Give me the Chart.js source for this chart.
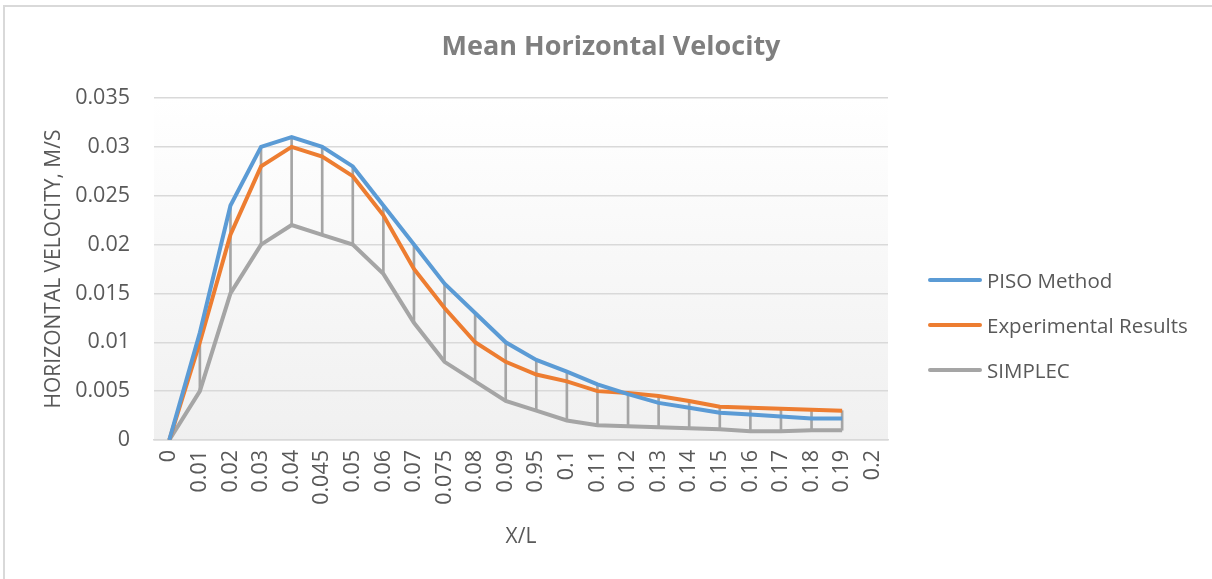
<!DOCTYPE html>
<html>
<head>
<meta charset="utf-8">
<title>Mean Horizontal Velocity</title>
<script src="https://cdn.jsdelivr.net/npm/chart.js@4.4.1/dist/chart.umd.min.js"></script>
<style>
	html, body { margin: 0; padding: 0; background: #fff; overflow: hidden; }
	#wrap { position: relative; width: 1212px; height: 579px; }
	#frame { position: absolute; left: 3px; top: 5px; width: 1240px; height: 600px;
		border-top: 2px solid #d9d9d9; border-left: 2px solid #d9d9d9; }
	#myChart { position: absolute; left: 0; top: 0; }
	#titulo { position: absolute; left: 0; top: 27px; width: 1222px; text-align: center;
		font-family: "Open Sans", sans-serif; font-weight: bold; font-size: 27px; line-height: 36px; color: #7f7f7f; }
	.legenda { position: absolute; left: 928px; font-family: "Open Sans", sans-serif; font-size: 20.5px; color: #595959; }
	.legenda div { position: relative; height: 45px; line-height: 28px; padding-left: 59px; white-space: nowrap; }
	.legenda span { position: absolute; left: 0; top: 12px; width: 54px; height: 4px; border-radius: 2px; }
</style>
</head>
<body>
<div id="wrap">
	<div id="frame"></div>
	<canvas id="myChart" width="1212" height="579"></canvas>
	<div id="titulo">Mean Horizontal Velocity</div>
	<div class="legenda" id="legenda" style="top: 266px;"></div>
</div>

<script>
// valores lidos por posição x/L
const categorias = ['0', '0.01', '0.02', '0.03', '0.04', '0.045', '0.05', '0.06', '0.07', '0.075', '0.08', '0.09',
	'0.95', '0.1', '0.11', '0.12', '0.13', '0.14', '0.15', '0.16', '0.17', '0.18', '0.19', '0.2'];

const piso = [0, 0.011, 0.024, 0.030, 0.031, 0.030, 0.028, 0.024, 0.020, 0.016, 0.013, 0.010,
	0.0082, 0.007, 0.0057, 0.0047, 0.0038, 0.0033, 0.0028, 0.0026, 0.0024, 0.0022, 0.0022, null];

const experimental = [0, 0.010, 0.021, 0.028, 0.030, 0.029, 0.027, 0.023, 0.0175, 0.0135, 0.010, 0.008,
	0.0067, 0.006, 0.005, 0.0048, 0.0045, 0.004, 0.0034, 0.0033, 0.0032, 0.0031, 0.003, null];

const simplec = [0, 0.005, 0.015, 0.020, 0.022, 0.021, 0.020, 0.017, 0.012, 0.008, 0.006, 0.004,
	0.003, 0.002, 0.0015, 0.0014, 0.0013, 0.0012, 0.0011, 0.0009, 0.0009, 0.001, 0.001, null];

const nomesSeries = ['PISO Method', 'Experimental Results', 'SIMPLEC'];
const coresSeries = ['#5b9bd5', '#ed7d31', '#a5a5a5'];

// linhas de máximo/mínimo entre as três séries
const linhasMaxMin = categorias.map(function(c, i) {
	if (piso[i] == null) return null;
	const v = [piso[i], experimental[i], simplec[i]];
	return [Math.min.apply(null, v), Math.max.apply(null, v)];
});

const fonte = '"Open Sans", sans-serif';
const corTexto = '#595959';

// fundo do gráfico em degradê
const fundoPlot = {
	id: 'fundoPlot',
	beforeDraw: function(chart) {
		const a = chart.chartArea;
		const ctx = chart.ctx;
		const g = ctx.createLinearGradient(0, a.top, 0, a.bottom);
		g.addColorStop(0, '#ffffff');
		g.addColorStop(1, '#f0f0f0');
		ctx.save();
		ctx.fillStyle = g;
		ctx.fillRect(a.left, a.top, a.right - a.left, a.bottom - a.top);
		ctx.restore();
	}
};

function linha(idx, dados) {
	return {
		type: 'line',
		label: nomesSeries[idx],
		data: dados,
		borderColor: coresSeries[idx],
		backgroundColor: coresSeries[idx],
		borderWidth: 4,
		pointRadius: 0,
		tension: 0,
		spanGaps: false,
		order: idx
	};
}

const ctx = document.getElementById('myChart').getContext('2d');

new Chart(ctx, {
	type: 'line',
	data: {
		labels: categorias,
		datasets: [
			linha(0, piso),
			linha(1, experimental),
			linha(2, simplec),
			{
				type: 'bar',
				label: 'hi-lo',
				data: linhasMaxMin,
				backgroundColor: '#a5a5a5',
				barThickness: 2,
				order: 10
			}
		]
	},
	options: {
		responsive: false,
		animation: false,
		layout: { padding: { top: 98, right: 324 } },
		plugins: {
			legend: { display: false },
			tooltip: { enabled: false },
			title: { display: false }
		},
		scales: {
			x: {
				offset: true,
				grid: { display: false, drawTicks: false },
				border: { display: true, color: '#d9d9d9', width: 1.5 },
				ticks: {
					autoSkip: false,
					minRotation: 90,
					maxRotation: 90,
					padding: 10,
					color: corTexto,
					font: { family: fonte, size: 21.5 }
				},
				title: {
					display: true,
					text: 'X/L',
					color: corTexto,
					font: { family: fonte, size: 21 },
					padding: { top: 0, bottom: 29 }
				},
				afterFit: function(scale) { scale.height = 139; }
			},
			y: {
				min: 0,
				max: 0.035,
				grid: { color: '#d9d9d9', lineWidth: 1.5, drawTicks: false },
				border: { display: false },
				ticks: {
					stepSize: 0.005,
					padding: 24,
					color: corTexto,
					font: { family: fonte, size: 21.5 },
					callback: function(v) { return String(+v.toFixed(3)); }
				},
				title: {
					display: true,
					text: 'HORIZONTAL VELOCITY, M/S',
					color: corTexto,
					font: { family: fonte, size: 21 },
					padding: { top: 41, bottom: 0 }
				},
				afterFit: function(scale) { scale.width = 154; }
			}
		}
	},
	plugins: [fundoPlot]
});

// legenda à direita
const legenda = document.getElementById('legenda');
nomesSeries.forEach(function(nome, i) {
	const item = document.createElement('div');
	const marca = document.createElement('span');
	marca.style.background = coresSeries[i];
	item.appendChild(marca);
	item.appendChild(document.createTextNode(nome));
	legenda.appendChild(item);
});
</script>
</body>
</html>
